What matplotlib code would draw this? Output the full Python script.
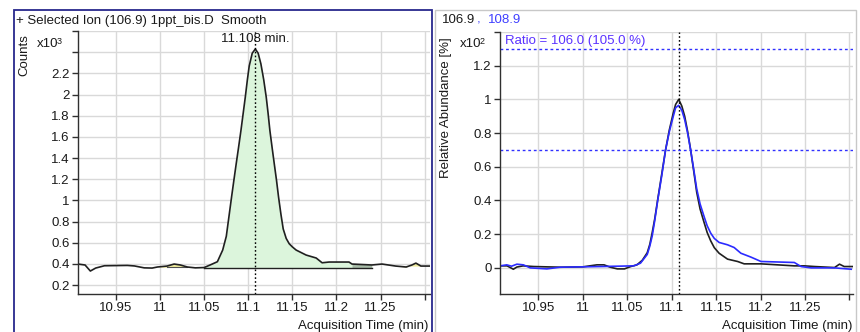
import matplotlib
matplotlib.use('Agg')
import matplotlib.pyplot as plt
from matplotlib.patches import Rectangle
import numpy as np

plt.rcParams['font.family'] = ['Liberation Sans', 'DejaVu Sans']

W, H = 860, 332

# ---------------- data ----------------
t_counts = [10.907, 10.915, 10.921, 10.927, 10.937, 10.963, 10.971, 10.982, 10.991, 10.997,
            11.008, 11.016, 11.023, 11.031, 11.040, 11.050, 11.057, 11.065, 11.071, 11.0751,
            11.078, 11.0811, 11.0837, 11.0864, 11.089, 11.0917, 11.0942, 11.0966, 11.099,
            11.1011, 11.1045, 11.108, 11.1112, 11.1143, 11.1175, 11.1204, 11.1225, 11.1245,
            11.127, 11.1294, 11.132, 11.1343, 11.137, 11.1396, 11.143, 11.1464, 11.150,
            11.1543, 11.1656, 11.177, 11.1837, 11.1916,
            11.2142, 11.2176, 11.240, 11.2516, 11.267, 11.279, 11.2855, 11.290, 11.2957, 11.306]
counts = [0.398, 0.389, 0.332, 0.36, 0.382, 0.385, 0.38, 0.362, 0.36, 0.37,
          0.379, 0.398, 0.389, 0.37, 0.362, 0.365, 0.39, 0.42, 0.53, 0.66,
          0.84, 1.033, 1.19, 1.35, 1.50, 1.66, 1.82, 1.973, 2.14,
          2.27, 2.39, 2.43, 2.39, 2.29, 2.14, 1.973, 1.82, 1.66,
          1.50, 1.35, 1.19, 1.033, 0.87, 0.73, 0.64, 0.59, 0.56,
          0.53, 0.483, 0.455, 0.41, 0.417,
          0.417, 0.398, 0.389, 0.398, 0.379, 0.37, 0.389, 0.407, 0.379, 0.379]

t_q = [10.907, 10.915, 10.922, 10.926, 10.933, 10.945, 10.975, 11.000, 11.016, 11.024,
       11.031, 11.039, 11.047, 11.054, 11.061, 11.067, 11.0726, 11.0755, 11.0782, 11.081,
       11.0845, 11.089, 11.0932, 11.0975, 11.1019, 11.1045, 11.108, 11.1115, 11.1147,
       11.118, 11.1214, 11.125, 11.1282, 11.132, 11.1365, 11.140, 11.144, 11.148, 11.1534,
       11.1629, 11.1742, 11.1816, 11.2005, 11.238, 11.2493, 11.2606, 11.2832, 11.2888,
       11.2941, 11.304]
rel_1069 = [0.012, 0.012, -0.008, 0.005, 0.012, 0.008, 0.004, 0.006, 0.018, 0.018,
            0.004, -0.006, -0.006, 0.008, 0.018, 0.045, 0.09, 0.14, 0.21, 0.29,
            0.41, 0.56, 0.70, 0.82, 0.92, 0.97, 1.0, 0.96, 0.9,
            0.81, 0.70, 0.57, 0.45, 0.35, 0.27, 0.21, 0.16, 0.12, 0.087,
            0.052, 0.038, 0.024, 0.024, 0.012, 0.012, 0.008, 0.002, 0.022,
            0.008, 0.008]

t_q2 = [10.907, 10.9146, 10.92, 10.926, 10.9333, 10.941, 10.9597, 10.9747, 11.0199, 11.0575,
        11.065, 11.0726, 11.0755, 11.0782, 11.081, 11.0845, 11.089, 11.0932, 11.0975,
        11.1019, 11.1045, 11.1079, 11.1115, 11.1147, 11.118, 11.1214, 11.125, 11.1282,
        11.132, 11.1365, 11.140, 11.144, 11.148, 11.1534, 11.1629, 11.1703, 11.1779,
        11.1892, 11.2005, 11.238, 11.2456, 11.2569, 11.2832, 11.302]
rel_1089 = [0.012, 0.018, 0.01, 0.022, 0.018, 0.0, -0.006, 0.004, 0.008, 0.012,
            0.028, 0.08, 0.13, 0.19, 0.28, 0.405, 0.55, 0.70, 0.81,
            0.90, 0.95, 0.965, 0.935, 0.88, 0.80, 0.70, 0.58, 0.47,
            0.38, 0.305, 0.25, 0.206, 0.175, 0.151, 0.137, 0.121, 0.087,
            0.064, 0.038, 0.032, 0.008, 0.0, 0.0, -0.008]

rt = 11.108
baseline = 0.36
ratio_upper = 1.3
ratio_lower = 0.7

x_ticks = [10.95, 11.0, 11.05, 11.1, 11.15, 11.2, 11.25, 11.3]
x_ticklabels = ['10.95', '11', '11.05', '11.1', '11.15', '11.2', '11.25', '']
yl_ticks = [0.2, 0.4, 0.6, 0.8, 1.0, 1.2, 1.4, 1.6, 1.8, 2.0, 2.2, 2.4, 2.6]
yl_labels = ['0.2', '0.4', '0.6', '0.8', '1', '1.2', '1.4', '1.6', '1.8', '2', '2.2', '', '']
yr_ticks = [0.0, 0.2, 0.4, 0.6, 0.8, 1.0, 1.2, 1.4]
yr_labels = ['0', '0.2', '0.4', '0.6', '0.8', '1', '1.2', '']

# ---------------- figure ----------------
fig = plt.figure(figsize=(W / 100, H / 100), dpi=100)
fig.patch.set_facecolor('white')

def fx(x):
    return x / W

def fy(y):
    return 1 - y / H

def ax_px(l, t, r, b):
    return fig.add_axes([l / W, 1 - b / H, (r - l) / W, (b - t) / H])

# panel frames
fig.add_artist(Rectangle((fx(14), fy(340)), (432 - 14) / W, (340 - 10) / H,
                         transform=fig.transFigure, fill=False, edgecolor='#28288c', lw=1.3))
fig.add_artist(Rectangle((fx(435), fy(340)), (856 - 435) / W, (340 - 10) / H,
                         transform=fig.transFigure, fill=False, edgecolor='#c8c8c8', lw=1.0))

FS = 9.5
tc = '#1a1a1a'
gridc = '#d9d9d9'

def style(ax):
    for s in ['top', 'right']:
        ax.spines[s].set_visible(False)
    for s in ['left', 'bottom']:
        ax.spines[s].set_color('#303030')
        ax.spines[s].set_linewidth(1.0)
    ax.grid(True, color=gridc, lw=1.0)
    ax.set_axisbelow(True)
    ax.tick_params(direction='out', length=4, width=1, color='#303030',
                   labelsize=FS, labelcolor=tc, pad=2)
    ax.set_xticks(x_ticks)
    ax.set_xticklabels(x_ticklabels)

# ---- left panel ----
axL = ax_px(78, 31, 430, 294)
style(axL)
tc_arr = np.array(t_counts)
c_arr = np.array(counts)
axL.set_xlim(10.907, 11.306)
axL.set_ylim(0.115, 2.6)
axL.set_yticks(yl_ticks)
axL.set_yticklabels(yl_labels)
# fills
m = (tc_arr >= 11.050) & (tc_arr <= 11.2176)
axL.fill_between(tc_arr, c_arr, baseline, where=m, interpolate=True,
                 color='#dcf5dc', lw=0)
m2 = (tc_arr >= 11.2176) & (tc_arr <= 11.240)
axL.fill_between(tc_arr, c_arr, baseline, where=m2, interpolate=True,
                 color='#a9bda9', lw=0)
m3 = (tc_arr >= 11.008) & (tc_arr <= 11.031)
axL.fill_between(tc_arr, c_arr, 0.367, where=m3, interpolate=True,
                 color='#efec9c', lw=0)
m4 = (tc_arr >= 11.279) & (tc_arr <= 11.2957)
axL.fill_between(tc_arr, c_arr, 0.379, where=m4, interpolate=True,
                 color='#efec9c', lw=0)
axL.plot([11.050, 11.240], [baseline, baseline], color='#202020', lw=1.0)
axL.plot([11.008, 11.031], [0.367, 0.367], color='#505050', lw=0.8)
axL.plot(tc_arr, c_arr, color='#202020', lw=1.2)
axL.axvline(rt, color='black', ls=(0, (1.2, 1.6)), lw=1.0)

# ---- right panel ----
axR = ax_px(500, 32, 853, 294)
style(axR)
axR.set_xlim(10.907, 11.304)
axR.set_ylim(-0.155, 1.4)
axR.set_yticks(yr_ticks)
axR.set_yticklabels(yr_labels)
axR.plot(t_q, rel_1069, color='#202020', lw=1.2)
axR.plot(t_q2, rel_1089, color='#2b2bff', lw=1.2)
axR.axvline(rt, color='black', ls=(0, (1.2, 1.6)), lw=1.0)
axR.axhline(ratio_upper, color='#3030ff', ls=(0, (2, 2)), lw=1.0)
axR.axhline(ratio_lower, color='#3030ff', ls=(0, (2, 2)), lw=1.0)

# ---------------- texts ----------------
fig.text(fx(16), fy(21), '+ Selected Ion (106.9) 1ppt_bis.D  Smooth', fontsize=FS,
         color=tc, va='center', ha='left')
fig.text(fx(24), fy(55), 'Counts', fontsize=FS, color=tc, rotation=90,
         va='center', ha='center')
fig.text(fx(37), fy(44), 'x10', fontsize=FS, color=tc, va='center', ha='left')
fig.text(fx(57), fy(41), '3', fontsize=6.5, color=tc, va='center', ha='left')
axL.text(rt, 2.58, '11.108 min.', fontsize=FS, color=tc, ha='center', va='top')
fig.text(fx(428), fy(326), 'Acquisition Time (min)', fontsize=FS, color=tc,
         ha='right', va='center')

fig.text(fx(442), fy(20), '106.9', fontsize=FS, color=tc, va='center', ha='left')
fig.text(fx(477), fy(20), ',', fontsize=FS, color='#3f3fff', va='center', ha='left')
fig.text(fx(488), fy(20), '108.9', fontsize=FS, color='#3f3fff', va='center', ha='left')
fig.text(fx(446), fy(108), 'Relative Abundance [%]', fontsize=FS, color=tc, rotation=90,
         va='center', ha='center')
fig.text(fx(460), fy(44), 'x10', fontsize=FS, color=tc, va='center', ha='left')
fig.text(fx(480), fy(41), '2', fontsize=6.5, color=tc, va='center', ha='left')
axR.text(10.9125, 1.38, 'Ratio = 106.0 (105.0 %)', fontsize=FS, color='#5a32ff',
         ha='left', va='top')
fig.text(fx(852), fy(326), 'Acquisition Time (min)', fontsize=FS, color=tc,
         ha='right', va='center')

fig.savefig('out.png', dpi=100, facecolor='white')
